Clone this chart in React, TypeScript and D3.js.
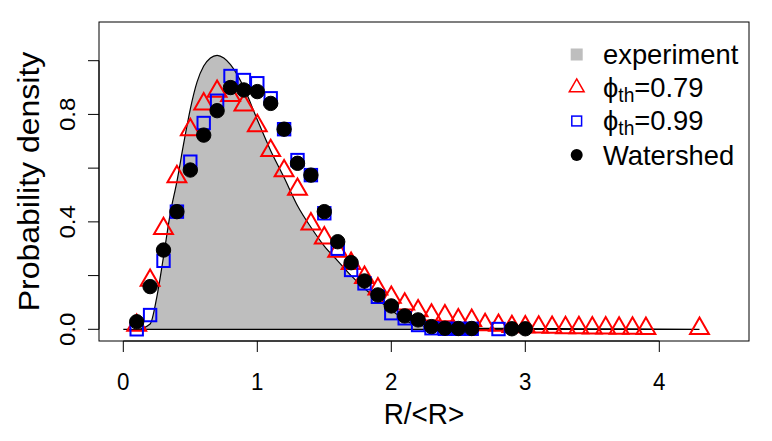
import React from "react";
import * as d3 from "d3";

// ---- data ----
const expX = [0, 0.1, 0.2, 0.25, 0.3, 0.35, 0.4, 0.45, 0.5, 0.55, 0.6, 0.65, 0.7, 0.75, 0.8, 0.9, 1.0, 1.1, 1.2, 1.3, 1.4, 1.5, 1.6, 1.7, 1.8, 1.9, 2.0, 2.1, 2.2, 2.4, 2.6, 3.0, 3.5, 4.0, 4.3];
const expY = [0, 0, 0.02, 0.12, 0.27, 0.43, 0.55, 0.69, 0.82, 0.92, 0.98, 1.01, 1.02, 1.01, 0.985, 0.9, 0.78, 0.665, 0.565, 0.46, 0.38, 0.31, 0.255, 0.2, 0.152, 0.11, 0.072, 0.035, 0.015, 0.006, 0.004, 0.003, 0.002, 0.001, 0];

const triX = [0.1, 0.2, 0.3, 0.4, 0.5, 0.6, 0.7, 0.8, 0.9, 1.0, 1.1, 1.2, 1.3, 1.4, 1.5, 1.6, 1.7, 1.8, 1.9, 2.0, 2.1, 2.2, 2.3, 2.4, 2.5, 2.6, 2.7, 2.8, 2.9, 3.0, 3.1, 3.2, 3.3, 3.4, 3.5, 3.6, 3.7, 3.8, 3.9, 4.3];
const triY = [0.015, 0.182, 0.375, 0.568, 0.743, 0.839, 0.886, 0.87, 0.835, 0.758, 0.665, 0.59, 0.521, 0.392, 0.34, 0.29, 0.245, 0.193, 0.15, 0.119, 0.094, 0.069, 0.053, 0.05, 0.035, 0.033, 0.017, 0.015, 0.01, 0.009, 0.008, 0.007, 0.006, 0.006, 0.005, 0.005, 0.004, 0.004, 0.003, 0.003];

const sqX = [0.1, 0.2, 0.3, 0.4, 0.5, 0.6, 0.7, 0.8, 0.9, 1.0, 1.1, 1.2, 1.3, 1.4, 1.5, 1.6, 1.7, 1.8, 1.9, 2.0, 2.1, 2.2, 2.3, 2.4, 2.5, 2.6, 2.8];
const sqY = [0.0, 0.053, 0.255, 0.438, 0.624, 0.768, 0.851, 0.943, 0.928, 0.916, 0.86, 0.745, 0.63, 0.574, 0.432, 0.3, 0.221, 0.171, 0.121, 0.06, 0.041, 0.016, 0.004, 0.002, 0.002, 0.002, 0.001];

const wsX = [0.1, 0.2, 0.3, 0.4, 0.5, 0.6, 0.7, 0.8, 0.9, 1.0, 1.1, 1.2, 1.3, 1.4, 1.5, 1.6, 1.7, 1.8, 1.9, 2.0, 2.1, 2.2, 2.3, 2.4, 2.5, 2.6, 2.9, 3.0];
const wsY = [0.028, 0.159, 0.295, 0.438, 0.593, 0.723, 0.814, 0.9, 0.891, 0.885, 0.841, 0.745, 0.618, 0.574, 0.438, 0.326, 0.248, 0.18, 0.128, 0.087, 0.05, 0.035, 0.01, 0.004, 0.003, 0.003, 0.002, 0.002];

const xTicks = [0, 1, 2, 3, 4];
const yTicks = [0, 0.2, 0.4, 0.6, 0.8, 1.0];
const yLabels = [0, 0.4, 0.8];
const legendPhi = ["0.79", "0.99"];

const FONT = "'Liberation Sans', Arial, Helvetica, sans-serif";
const SX = 0.93;

function triPath(cx: number, cy: number, s: number) {
  const r = 1.5551 * s, xc = 1.3468 * s, yc = 0.7776 * s;
  return `M${cx},${cy - r}L${cx + xc},${cy + yc}L${cx - xc},${cy + yc}Z`;
}

function HText({ x, y, size, anchor = "middle", sx = SX, children }: any) {
  return (
    <text transform={`translate(${x},${y}) scale(${sx},1)`} fontSize={size} fontFamily={FONT} textAnchor={anchor} fill="#000">
      {children}
    </text>
  );
}

function VText({ x, y, size, children }: any) {
  return (
    <text transform={`translate(${x},${y}) rotate(-90) scale(1,${SX})`} fontSize={size} fontFamily={FONT} textAnchor="middle" fill="#000">
      {children}
    </text>
  );
}

export default function App() {
  const W = 772, H = 441;
  const left = 99, right = 749, top = 22, bottom = 341;
  const x = d3.scaleLinear().domain([0, 4]).range([123.3, 659.3]);
  const y = d3.scaleLinear().domain([0, 1]).range([329.3, 60.7]);

  const area = d3
    .area<number>()
    .x((_, i) => x(expX[i]))
    .y0(() => y(0))
    .y1((d) => y(d))
    .curve(d3.curveMonotoneX);

  const s = 7.0;
  const legX = 576.7;
  const legRows = [54.5, 87.5, 121, 155];
  const legTextX = 603;
  const legSize = 28.5;
  const legSX = 0.96;

  return (
    <svg width={W} height={H} style={{ position: "absolute", left: 0, top: 0, background: "#fff" }}>
      <rect x={0} y={0} width={W} height={H} fill="#fff" />
      {/* experiment */}
      <path d={area(expY) || ""} fill="#bebebe" stroke="#000" strokeWidth={1.2} />
      {/* phi 0.79 triangles */}
      {triX.map((v, i) => (
        <path key={"t" + i} d={triPath(x(v), y(triY[i]), s)} fill="none" stroke="#ff0000" strokeWidth={2} />
      ))}
      {/* phi 0.99 squares */}
      {sqX.map((v, i) => (
        <rect key={"s" + i} x={x(v) - 0.886 * s} y={y(sqY[i]) - 0.886 * s} width={2 * 0.886 * s} height={2 * 0.886 * s} fill="none" stroke="#0000ff" strokeWidth={2} />
      ))}
      {/* watershed circles */}
      {wsX.map((v, i) => (
        <circle key={"c" + i} cx={x(v)} cy={y(wsY[i])} r={7.2} fill="#000" stroke="#000" strokeWidth={1} />
      ))}

      {/* box */}
      <rect x={left} y={top} width={right - left} height={bottom - top} fill="none" stroke="#000" strokeWidth={1} />

      {/* x axis */}
      <line x1={x(0)} x2={x(4)} y1={bottom} y2={bottom} stroke="#000" />
      {xTicks.map((t) => (
        <g key={"xt" + t}>
          <line x1={x(t)} x2={x(t)} y1={bottom} y2={bottom + 11} stroke="#000" />
          <HText x={x(t)} y={390} size={24}>{String(t)}</HText>
        </g>
      ))}
      <HText x={(left + right) / 2} y={424} size={30}>R/&lt;R&gt;</HText>

      {/* y axis */}
      <line x1={left} x2={left} y1={y(0)} y2={y(1)} stroke="#000" />
      {yTicks.map((t) => (
        <line key={"yt" + t} x1={left - 11} x2={left} y1={y(t)} y2={y(t)} stroke="#000" />
      ))}
      {yLabels.map((t) => (
        <VText key={"yl" + t} x={75} y={y(t)} size={24}>{d3.format(".1f")(t)}</VText>
      ))}
      <VText x={39} y={(top + bottom) / 2} size={32}>Probability density</VText>

      {/* legend */}
      <rect x={legX - 6} y={legRows[0] - 6} width={12} height={12} fill="#bebebe" />
      <path d={triPath(legX, legRows[1], 5.5)} fill="none" stroke="#ff0000" strokeWidth={1.5} />
      <rect x={legX - 4.9} y={legRows[2] - 4.9} width={9.8} height={9.8} fill="none" stroke="#0000ff" strokeWidth={1.5} />
      <circle cx={legX} cy={legRows[3]} r={6} fill="#000" />

      <HText x={legTextX} y={legRows[0] + 9} size={legSize} anchor="start" sx={legSX}>experiment</HText>
      {legendPhi.map((v, i) => (
        <text key={"lp" + i} transform={`translate(${legTextX},${legRows[i + 1] + 9}) scale(${legSX},1)`} fontSize={legSize} fontFamily={FONT} fill="#000">
          <tspan>ϕ</tspan>
          <tspan fontSize={20} dy={5}>th</tspan>
          <tspan dy={-5}>=</tspan>
          <tspan>{v}</tspan>
        </text>
      ))}
      <HText x={legTextX} y={legRows[3] + 10} size={legSize} anchor="start" sx={legSX}>Watershed</HText>
    </svg>
  );
}
